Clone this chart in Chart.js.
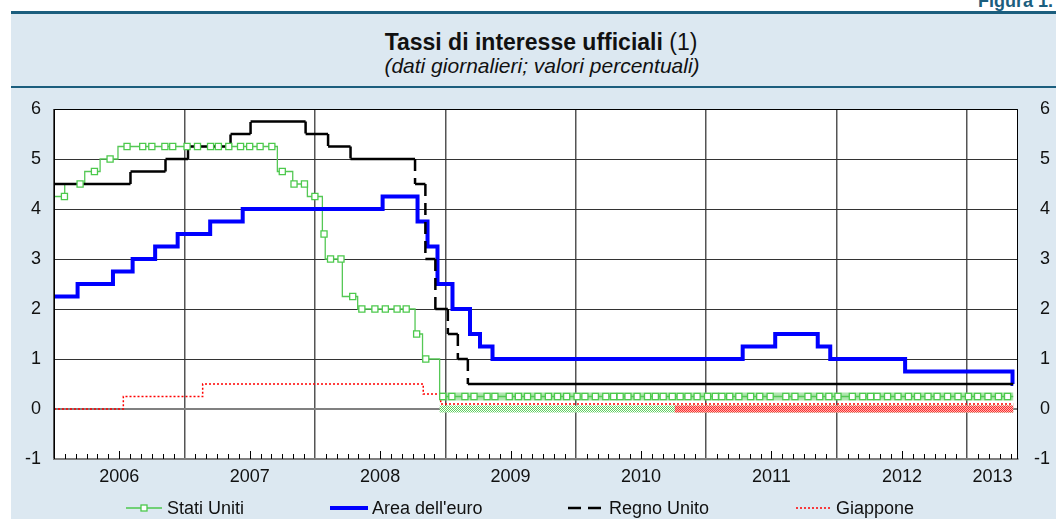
<!DOCTYPE html>
<html lang="it">
<head>
<meta charset="UTF-8" />
<title>Tassi di interesse ufficiali</title>
<script src="https://cdn.jsdelivr.net/npm/chart.js"></script>
<style>
  body {
    margin: 0;
    width: 1056px;
    height: 519px;
    overflow: hidden;
    position: relative;
    background: #fff;
    font-family: "Liberation Sans", Arial, sans-serif;
    color: #111;
  }
  #panel { position: absolute; left: 11px; top: 14px; width: 1045px; height: 505px; background: #dce8f1; }
  .rule { position: absolute; left: 11px; width: 1045px; background: #1b5e7e; }
  #fig { position: absolute; right: 3px; top: -8px; font-size: 18px; line-height: 18px; font-weight: bold; color: #1b5e7e; }
  #title { position: absolute; left: 0; width: 1082px; top: 29px; text-align: center; font-size: 23px; line-height: 26px; white-space: nowrap; }
  #subtitle { position: absolute; left: 0; width: 1084px; top: 54px; text-align: center; font-size: 21px; line-height: 24px; font-style: italic; white-space: nowrap; }
  canvas { position: absolute; left: 0; top: 0; }
  .lg { position: absolute; top: 498px; font-size: 18px; line-height: 20px; white-space: nowrap; }
  .lgs { position: absolute; top: 502px; }
</style>
</head>
<body>
<div id="panel"></div>
<div class="rule" style="top:11px;height:3px"></div>
<div class="rule" style="top:86px;height:2px"></div>
<div id="fig">Figura 1.</div>
<div id="title"><b>Tassi di interesse ufficiali</b> (1)</div>
<div id="subtitle">(dati giornalieri; valori percentuali)</div>
<canvas id="chart" width="1056" height="519"></canvas>

<svg class="lgs" style="left:124px" width="40" height="12">
  <line x1="2" y1="6" x2="38" y2="6" stroke="#4cc94c" stroke-width="1.3" />
  <rect x="17" y="3" width="6" height="6" fill="#fff" stroke="#4cc94c" stroke-width="1.3" />
</svg>
<div class="lg" style="left:167px">Stati Uniti</div>
<svg class="lgs" style="left:328px" width="44" height="12">
  <line x1="2" y1="6" x2="40" y2="6" stroke="#0000ff" stroke-width="4" />
</svg>
<div class="lg" style="left:372px">Area dell'euro</div>
<svg class="lgs" style="left:566px" width="40" height="12">
  <line x1="2" y1="6" x2="36" y2="6" stroke="#000" stroke-width="2.5" stroke-dasharray="13 7" />
</svg>
<div class="lg" style="left:609px">Regno Unito</div>
<svg class="lgs" style="left:794px" width="40" height="12">
  <line x1="2" y1="6" x2="38" y2="6" stroke="#ff0000" stroke-width="1.5" stroke-dasharray="2 2" />
</svg>
<div class="lg" style="left:836px">Giappone</div>

<script>
  // tassi ufficiali: date di variazione e livelli
  const usDates = ['2006-01-01', '2006-01-31', '2006-03-28', '2006-05-10', '2006-06-29', '2007-09-18',
    '2007-10-31', '2007-12-11', '2008-01-22', '2008-01-30', '2008-03-18', '2008-04-30', '2008-10-08',
    '2008-10-29', '2008-12-16', '2013-05-10'];
  const usRates = [4.25, 4.5, 4.75, 5, 5.25, 4.75, 4.5, 4.25, 3.5, 3, 2.25, 2, 1.5, 1, 0.25, 0.25];

  const euroDates = ['2006-01-01', '2006-03-08', '2006-06-15', '2006-08-09', '2006-10-11', '2006-12-13',
    '2007-03-14', '2007-06-13', '2008-07-09', '2008-10-15', '2008-11-12', '2008-12-10', '2009-01-21',
    '2009-03-11', '2009-04-08', '2009-05-13', '2011-04-13', '2011-07-13', '2011-11-09', '2011-12-14',
    '2012-07-11', '2013-05-08', '2013-05-10'];
  const euroRates = [2.25, 2.5, 2.75, 3, 3.25, 3.5, 3.75, 4, 4.25, 3.75, 3.25, 2.5, 2, 1.5, 1.25, 1,
    1.25, 1.5, 1.25, 1, 0.75, 0.5, 0.5];

  const ukDates = ['2006-01-01', '2006-08-03', '2006-11-09', '2007-01-11', '2007-05-10', '2007-07-05',
    '2007-12-06', '2008-02-07', '2008-04-10', '2008-10-08', '2008-11-06', '2008-12-04', '2009-01-08',
    '2009-02-05', '2009-03-05', '2013-05-10'];
  const ukRates = [4.5, 4.75, 5, 5.25, 5.5, 5.75, 5.5, 5.25, 5, 4.5, 3, 2, 1.5, 1, 0.5, 0.5];

  const jpDates = ['2006-01-01', '2006-07-14', '2007-02-21', '2008-10-31', '2008-12-19', '2013-05-10'];
  const jpRates = [0, 0.25, 0.5, 0.3, 0.1, 0.1];

  // intervalli obiettivo (estremi)
  const usBandDates = ['2008-12-16', '2013-05-10'];
  const usBandHigh = [0.25, 0.25];
  const usBandLow = [0, 0];
  const jpBandDates = ['2010-10-05', '2013-05-10'];
  const jpBandLow = [0, 0];

  // posizioni dei marcatori della serie USA (anni decimali)
  const usMarkerYears = [2006.08, 2006.20, 2006.31, 2006.43, 2006.56, 2006.68, 2006.75, 2006.85, 2006.91,
    2007.02, 2007.10, 2007.20, 2007.26, 2007.34, 2007.43, 2007.50, 2007.58, 2007.67, 2007.75, 2007.84,
    2007.92, 2008.00, 2008.07, 2008.12, 2008.20, 2008.29, 2008.36, 2008.46, 2008.54, 2008.63, 2008.70,
    2008.78, 2008.85, 2008.98, 2009.05, 2009.15, 2009.22, 2009.32, 2009.38, 2009.49, 2009.56, 2009.63,
    2009.71, 2009.79, 2009.86, 2009.93, 2010.01, 2010.07, 2010.15, 2010.23, 2010.29, 2010.34, 2010.40,
    2010.47, 2010.55, 2010.61, 2010.67, 2010.74, 2010.80, 2010.86, 2010.93, 2011.01, 2011.07, 2011.12,
    2011.18, 2011.25, 2011.34, 2011.41, 2011.49, 2011.61, 2011.68, 2011.78, 2011.87, 2011.94, 2012.01,
    2012.12, 2012.20, 2012.26, 2012.31, 2012.39, 2012.47, 2012.55, 2012.62, 2012.70, 2012.77, 2012.85,
    2012.93, 2013.01, 2013.08, 2013.16, 2013.24, 2013.31];

  const yearLabels = ['2006', '2007', '2008', '2009', '2010', '2011', '2012', '2013'];
  const xStart = 2006;
  const xEnd = 2013.39;
  const yMin = -1;
  const yMax = 6;

  function toYear(s) {
    const [y, m, d] = s.split('-').map(Number);
    const a = Date.UTC(y, 0, 1), b = Date.UTC(y + 1, 0, 1);
    return y + (Date.UTC(y, m - 1, d) - a) / (b - a);
  }

  // punti a gradini: ogni variazione ha un tratto verticale
  function stepPoints(dates, rates) {
    const pts = [];
    dates.forEach((d, i) => {
      const x = toYear(d);
      if (i > 0) pts.push({ x: x, y: rates[i - 1] });
      pts.push({ x: x, y: rates[i] });
    });
    return pts;
  }

  // solo tratti orizzontali (separati da vuoti)
  function flatRuns(dates, rates) {
    const pts = [];
    for (let i = 0; i < dates.length - 1; i++) {
      const x0 = toYear(dates[i]), x1 = toYear(dates[i + 1]);
      pts.push({ x: x0, y: rates[i] }, { x: x1, y: rates[i] }, { x: x1, y: null });
    }
    return pts;
  }

  // solo tratti verticali (separati da vuoti)
  function dropRuns(dates, rates) {
    const pts = [];
    for (let i = 1; i < dates.length; i++) {
      if (rates[i] === rates[i - 1]) continue;
      const x = toYear(dates[i]);
      pts.push({ x: x, y: rates[i - 1] }, { x: x, y: rates[i] }, { x: x + 0.0001, y: null });
    }
    return pts;
  }

  function flatPoints(dates, vals) {
    return dates.map((d, i) => ({ x: toYear(d), y: vals[i] }));
  }

  function rateAt(dates, rates, x) {
    let v = rates[0];
    dates.forEach((d, i) => { if (toYear(d) <= x) v = rates[i]; });
    return v;
  }

  const canvas = document.getElementById('chart');
  const ctx = canvas.getContext('2d');

  function checker(c1, c2) {
    const t = document.createElement('canvas');
    t.width = 2; t.height = 2;
    const g = t.getContext('2d');
    g.fillStyle = c2; g.fillRect(0, 0, 2, 2);
    g.fillStyle = c1; g.fillRect(0, 0, 1, 1); g.fillRect(1, 1, 1, 1);
    return ctx.createPattern(t, 'repeat');
  }

  const plotBox = {
    id: 'plotBox',
    beforeDraw(chart) {
      const a = chart.chartArea, c = chart.ctx;
      c.save();
      c.fillStyle = '#fff';
      c.fillRect(a.left, a.top, a.right - a.left, a.bottom - a.top);
      c.restore();
    },
    afterDatasetsDraw(chart) {
      const c = chart.ctx, x = chart.scales.x, a = chart.chartArea;
      c.save();
      c.strokeStyle = '#000';
      c.lineWidth = 1;
      // tacche mensili sull'asse
      for (let y = 2006; y <= 2013; y++) {
        for (let m = 1; m < 12; m++) {
          const v = y + m / 12;
          if (v > xEnd) break;
          const px = Math.round(x.getPixelForValue(v)) + 0.5;
          const len = m === 6 ? 8 : 5;
          c.beginPath();
          c.moveTo(px, a.bottom);
          c.lineTo(px, a.bottom - len);
          c.stroke();
        }
      }
      c.beginPath();
      c.moveTo(a.left + 0.5, a.bottom);
      c.lineTo(a.left + 0.5, a.top + 0.5);
      c.lineTo(a.right - 0.5, a.top + 0.5);
      c.lineTo(a.right - 0.5, a.bottom);
      c.stroke();
      c.restore();
    }
  };

  const labelYears = yearLabels.map(y => {
    const s = Number(y);
    return (s + Math.min(s + 1, xEnd)) / 2;
  });

  const tickFont = { family: '"Liberation Sans", Arial, sans-serif', size: 18 };

  new Chart(ctx, {
    type: 'line',
    data: {
      datasets: [
        {
          label: 'Stati Uniti marcatori',
          data: usMarkerYears.map(x => ({ x: x, y: rateAt(usDates, usRates, x) })),
          showLine: false,
          pointStyle: 'rect',
          pointRadius: 4.3,
          pointBorderWidth: 1.3,
          pointBorderColor: '#4cc94c',
          pointBackgroundColor: '#fff',
          order: 0
        },
        {
          label: 'Regno Unito',
          data: flatRuns(ukDates, ukRates),
          borderColor: '#000',
          borderWidth: 2.5,
          pointRadius: 0,
          spanGaps: false,
          order: 1
        },
        {
          label: 'Regno Unito variazioni',
          data: dropRuns(ukDates, ukRates),
          borderColor: '#000',
          borderWidth: 2.5,
          borderDash: [12, 7],
          pointRadius: 0,
          spanGaps: false,
          order: 1
        },
        {
          label: 'Giappone',
          data: stepPoints(jpDates, jpRates),
          borderColor: '#ff0000',
          borderWidth: 1.5,
          borderDash: [2, 2],
          pointRadius: 0,
          order: 2
        },
        {
          label: "Area dell'euro",
          data: stepPoints(euroDates, euroRates),
          borderColor: '#0000ff',
          borderWidth: 4,
          borderJoinStyle: 'miter',
          pointRadius: 0,
          order: 3
        },
        {
          label: 'Stati Uniti',
          data: stepPoints(usDates, usRates),
          borderColor: '#55c855',
          borderWidth: 1.3,
          pointRadius: 0,
          order: 4
        },
        {
          label: 'Giappone minimo',
          data: flatPoints(jpBandDates, jpBandLow),
          borderColor: checker('#ff2a2a', '#ffb4b4'),
          borderWidth: 7,
          pointRadius: 0,
          order: 5
        },
        {
          label: 'Stati Uniti minimo',
          data: flatPoints(usBandDates, usBandLow),
          borderColor: checker('#5ccf5c', '#ffffff'),
          borderWidth: 7,
          pointRadius: 0,
          order: 6
        },
        {
          label: 'Stati Uniti massimo',
          data: flatPoints(usBandDates, usBandHigh),
          borderColor: 'rgba(120, 214, 120, 0.6)',
          borderWidth: 8,
          pointRadius: 0,
          order: 7
        }
      ]
    },
    options: {
      responsive: false,
      animation: false,
      events: [],
      layout: { padding: { top: 109, left: 0, right: 6, bottom: 0 } },
      plugins: { legend: { display: false }, tooltip: { enabled: false } },
      scales: {
        x: {
          type: 'linear',
          min: xStart,
          max: xEnd,
          afterBuildTicks: s => {
            const t = [];
            for (let y = 2006; y <= 2013; y++) t.push({ value: y });
            labelYears.forEach(v => t.push({ value: v }));
            s.ticks = t;
          },
          afterFit: s => { s.height = 60; },
          ticks: {
            autoSkip: false,
            maxRotation: 0,
            padding: 7,
            color: '#111',
            font: tickFont,
            callback: v => {
              const i = labelYears.indexOf(v);
              return i >= 0 ? yearLabels[i] : '';
            }
          },
          grid: {
            drawTicks: false,
            color: c => (Number.isInteger(c.tick.value) ? '#555' : 'rgba(0,0,0,0)'),
            lineWidth: 1.5
          },
          border: { display: true, color: '#7f7f7f', width: 2 }
        },
        y: {
          position: 'left',
          min: yMin,
          max: yMax,
          afterFit: s => { s.width = 54; },
          ticks: { stepSize: 1, padding: 13, color: '#111', font: tickFont },
          grid: {
            drawTicks: false,
            color: c => (c.tick.value === 0 ? '#808080' : '#333'),
            lineWidth: c => (c.tick.value === 0 ? 2 : 1)
          },
          border: { display: false }
        },
        y2: {
          position: 'right',
          min: yMin,
          max: yMax,
          afterFit: s => { s.width = 32; },
          ticks: { stepSize: 1, padding: 10, crossAlign: 'far', color: '#111', font: tickFont },
          grid: { display: false, drawTicks: false },
          border: { display: false }
        }
      }
    },
    plugins: [plotBox]
  });
</script>
</body>
</html>
